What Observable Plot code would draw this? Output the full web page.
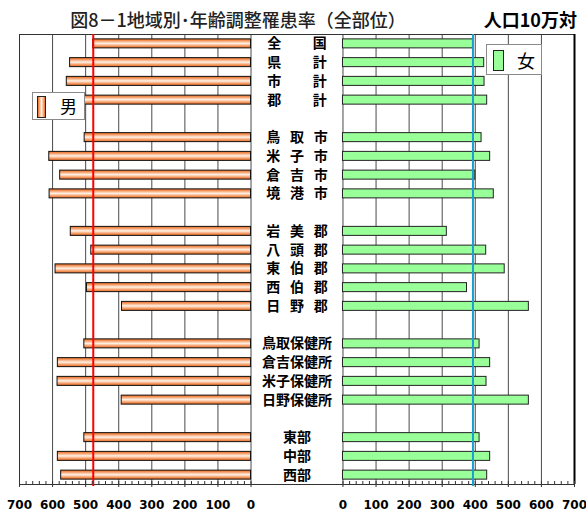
<!DOCTYPE html>
<html>
<head>
<meta charset="utf-8">
<script src="https://cdn.jsdelivr.net/npm/d3@7"></script>
<script src="https://cdn.jsdelivr.net/npm/@observablehq/plot@0.6"></script>
<style>
  html, body { margin: 0; padding: 0; background: #fff; }
  #wrap { position: relative; width: 586px; height: 515px; overflow: hidden; font-family: "Noto Sans CJK JP", sans-serif; }
  #title { position: absolute; left: 0; width: 476px; top: 6px; text-align: center; font-size: 18px; font-weight: 500; color: #222; line-height: 26px; white-space: nowrap; }
  #unit { position: absolute; right: 9px; top: 6px; font-size: 18px; font-weight: bold; color: #000; line-height: 26px; white-space: nowrap; }
  .legend { position: absolute; background: #fff; border: 1px solid #8a8a8a; box-sizing: border-box; }
  .sw { position: absolute; box-sizing: border-box; border: 1px solid #222; }
  .lt { position: absolute; font-size: 17px; line-height: 20px; color: #000; }
</style>
</head>
<body>
<div id="wrap">
  <div id="title">図8－1地域別･年齢調整罹患率（全部位）</div>
  <div id="unit">人口10万対</div>
  <div id="chart"></div>
  <div class="legend" style="left:32px;top:92px;width:53px;height:28px;">
    <div class="sw" style="left:4px;top:3px;width:9px;height:22px;background:linear-gradient(to right,#e8702a,#fff0e2 50%,#e8702a);"></div>
    <div class="lt" style="left:27px;top:3px;">男</div>
  </div>
  <div class="legend" style="left:486px;top:44px;width:56px;height:31px;">
    <div class="sw" style="left:6px;top:5px;width:11px;height:21px;background:#99ff99;"></div>
    <div class="lt" style="left:30px;top:5px;font-size:18px;">女</div>
  </div>
</div>
<script>
// ---- data ----
const categories = ["全国","県計","市計","郡計","鳥取市","米子市","倉吉市","境港市","岩美郡","八頭郡","東伯郡","西伯郡","日野郡","鳥取保健所","倉吉保健所","米子保健所","日野保健所","東部","中部","西部"];
const categoryLabels = ["全　　\u2005国","県　　\u2005計","市　　\u2005計","郡　　\u2005計",
  "鳥\u2002\u2009取\u2002\u2009市","米\u2002\u2009子\u2002\u2009市","倉\u2002\u2009吉\u2002\u2009市","境\u2002\u2009港\u2002\u2009市",
  "岩\u2002\u2009美\u2002\u2009郡","八\u2002\u2009頭\u2002\u2009郡","東\u2002\u2009伯\u2002\u2009郡","西\u2002\u2009伯\u2002\u2009郡","日\u2002\u2009野\u2002\u2009郡",
  "鳥取保健所","倉吉保健所","米子保健所","日野保健所","東部","中部","西部"];
const groupSizes = [4, 4, 5, 4, 3];
const maleValues   = [477, 547, 557, 527, 503, 610, 577, 609, 545, 483, 591, 496, 390, 504, 584, 585, 391, 504, 584, 574];
const femaleValues = [393, 427, 428, 436, 419, 445, 400, 456, 314, 433, 489, 375, 562, 413, 445, 434, 562, 413, 445, 436];
const tickValues = [0, 100, 200, 300, 400, 500, 600, 700];
const maleRef = maleValues[0];     // 全国 (red line)
const femaleRef = femaleValues[0]; // 全国 (blue line)

// ---- layout helpers ----
const half = 139; // half of the central label gap, in axis units
const mx = v => -(half + v);
const fx = v => half + v;

const rows = categories.map((c, i) => ({cat: c, label: categoryLabels[i], male: maleValues[i], female: femaleValues[i]}));
const domain = [];
let k = 0;
groupSizes.forEach((n, g) => {
  for (let j = 0; j < n; j++) domain.push(categories[k++]);
  if (g < groupSizes.length - 1) domain.push("__gap" + g);
});

const majorPos = [...tickValues.map(mx), ...tickValues.map(fx)];
const minorVals = d3.range(0, 701, 20);
const minorPos = [...minorVals.map(mx), ...minorVals.map(fx)];

const defs = () => {
  const d = d3.create("svg:defs");
  const g = d.append("linearGradient").attr("id", "gm").attr("x1", 0).attr("y1", 0).attr("x2", 0).attr("y2", 1);
  [[0, "#e56a22"], [0.18, "#f39055"], [0.5, "#fff2e6"], [0.82, "#f39055"], [1, "#e56a22"]]
    .forEach(([o, c]) => g.append("stop").attr("offset", o).attr("stop-color", c));
  return d.node();
};

const chart = Plot.plot({
  width: 586,
  height: 515,
  marginTop: 34,
  marginBottom: 31,
  marginLeft: 19,
  marginRight: 12,
  style: {fontFamily: "DejaVu Sans, sans-serif", fontSize: "12px", background: "transparent", color: "#000", overflow: "visible"},
  x: {domain: [mx(700), fx(700)], axis: null},
  y: {type: "band", domain, paddingInner: 0.52, paddingOuter: 0.26, round: false, axis: null},
  marks: [
    defs,
    Plot.ruleX(majorPos, {stroke: "#4a4a4a", strokeWidth: 1}),
    Plot.frame({stroke: "#333"}),
    Plot.ruleX([700], {x: fx, stroke: "#000", strokeWidth: 2}),
    Plot.barX(rows, {y: "cat", x1: () => mx(0), x2: d => mx(d.male), fill: "url(#gm)", stroke: "#111", strokeWidth: 1}),
    Plot.barX(rows, {y: "cat", x1: () => fx(0), x2: d => fx(d.female), fill: "#99ff99", stroke: "#222", strokeWidth: 1}),
    Plot.text(rows, {y: "cat", text: "label", frameAnchor: "middle", fontFamily: "Noto Sans CJK JP", fontWeight: "bold", fontSize: 14, fill: "#000"}),
    Plot.ruleX([maleRef], {x: mx, stroke: "#ff0000", strokeWidth: 2, insetBottom: -2}),
    Plot.ruleX([femaleRef], {x: fx, stroke: "#1a9fd0", strokeWidth: 2, insetBottom: -2}),
    Plot.axisX(minorPos, {anchor: "bottom", tickSize: -3, tickFormat: () => "", stroke: "#333"}),
    Plot.axisX(majorPos, {anchor: "bottom", tickSize: 3, tickFormat: () => "", stroke: "#333"}),
    Plot.axisX(majorPos, {anchor: "bottom", tickSize: 0, tickPadding: 16, tickFormat: d => String(Math.round(Math.abs(d) - half)), fontWeight: "bold", fontSize: 12, fontFamily: "DejaVu Sans", fill: "#000"})
  ]
});
document.getElementById("chart").appendChild(chart);
</script>
</body>
</html>
